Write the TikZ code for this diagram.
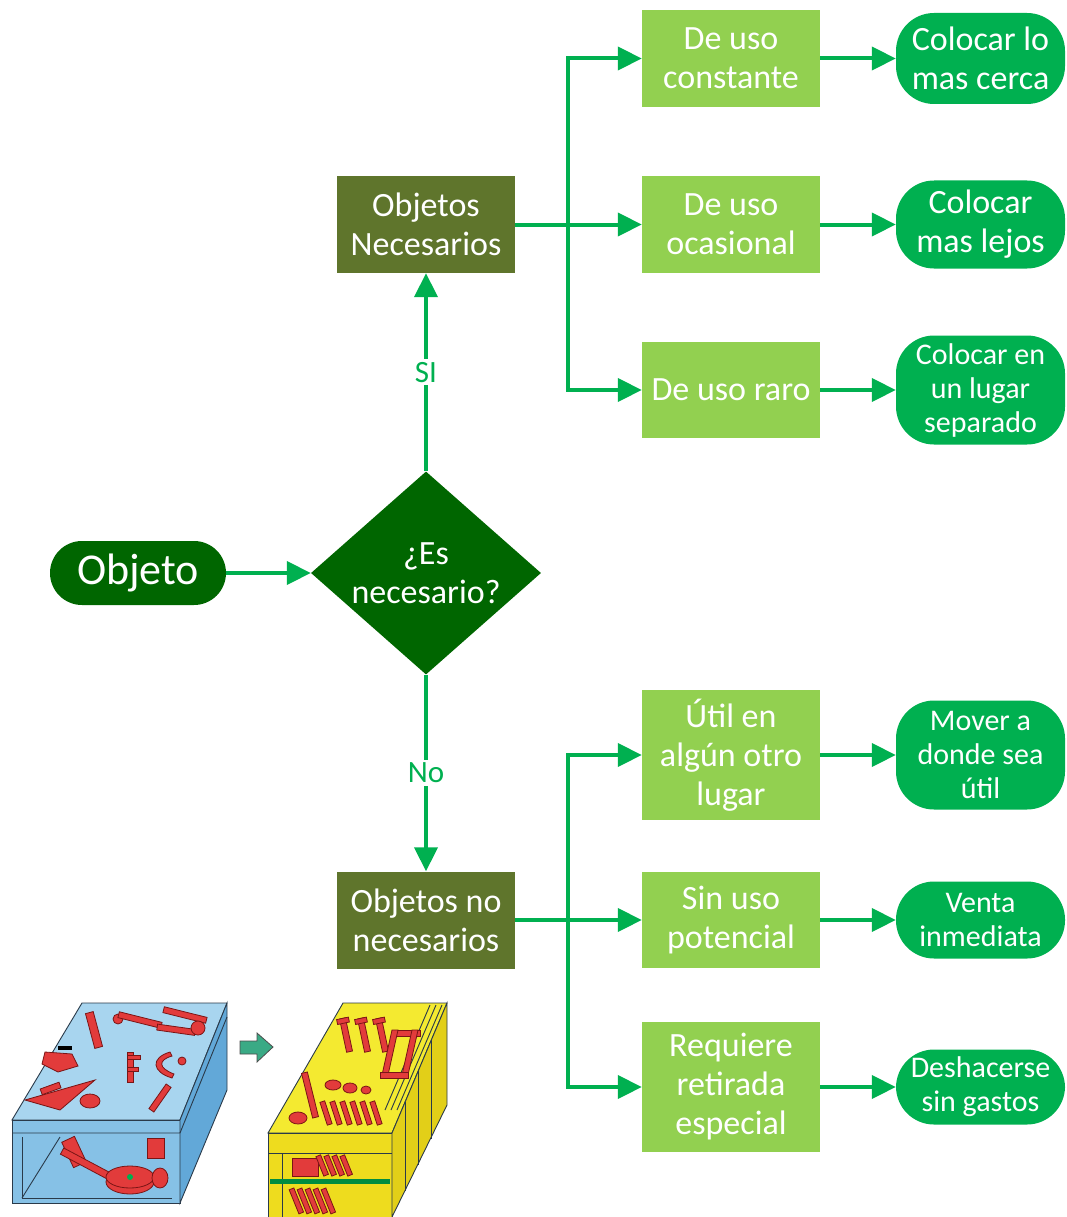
\documentclass[tikz,border=0pt]{standalone}
\usepackage{fontspec}
\setmainfont{Carlito}
\usetikzlibrary{shapes.geometric,arrows.meta}
\definecolor{catgreen}{HTML}{92D050}
\definecolor{resgreen}{HTML}{00B050}
\definecolor{deepgreen}{HTML}{006600}
\definecolor{grpolive}{HTML}{5F752C}
\definecolor{toolred}{HTML}{E23B3B}
\definecolor{toolline}{HTML}{7A1515}
\definecolor{boxblue}{HTML}{A8D5EF}
\definecolor{boxblue2}{HTML}{86C1E6}
\definecolor{boxblue3}{HTML}{62A8D8}
\definecolor{boxyel}{HTML}{F4EA30}
\definecolor{boxyel2}{HTML}{EEDC1E}
\definecolor{boxyel3}{HTML}{E2CF18}
\definecolor{inkline}{HTML}{2A3A4A}
\definecolor{arrowteal}{HTML}{3AAA85}
\begin{document}
\begin{tikzpicture}[x=1pt,y=-1pt,
  cat/.style={fill=catgreen,text=white,minimum width=178pt,inner sep=0pt,align=center,
    font=\fontsize{34}{39}\selectfont},
  grp/.style={fill=grpolive,text=white,minimum width=178pt,minimum height=97pt,inner sep=0pt,align=center,
    font=\fontsize{34}{39}\selectfont},
  res/.style={fill=resgreen,text=white,minimum width=169pt,inner sep=0pt,align=center,rounded corners=38pt},
  bigres/.style={res,font=\fontsize{34}{39}\selectfont},
  smallres/.style={res,font=\fontsize{30}{34}\selectfont},
  decision/.style={diamond,fill=deepgreen,minimum width=230pt,minimum height=203pt,inner sep=0pt},
  flow/.style={draw=resgreen,line width=4pt,-{Triangle[length=24pt,width=23pt]}},
  lbl/.style={fill=white,text=resgreen,inner sep=3pt,font=\fontsize{31}{34}\selectfont},
  tool/.style={fill=toolred,draw=toolline,line width=0.8pt},
  ink/.style={draw=inkline,line width=0.9pt}]
\useasboundingbox (0,0) rectangle (1067,1217);

% start and decision
\node[fill=deepgreen,text=white,minimum width=176pt,minimum height=64pt,rounded corners=32pt,
  inner sep=0pt,font=\fontsize{44}{48}\selectfont] (obj) at (138,573) {Objeto};
\node[decision,label={[text=white,align=center,font=\fontsize{34}{39}\selectfont]center:¿Es\\necesario?}] (q) at (426,573) {};

% groups
\node[grp] (on) at (426,224.5) {Objetos\\Necesarios};
\node[grp] (nn) at (426,920) {Objetos no\\necesarios};

% categories
\node[cat,minimum height=97pt] (t1) at (731,58.5) {De uso\\constante};
\node[cat,minimum height=97pt] (t2) at (731,224.5) {De uso\\ocasional};
\node[cat,minimum height=96pt] (t3) at (731,390) {De uso raro};
\node[cat,minimum height=130pt] (b1) at (731,755) {Útil en\\algún otro\\lugar};
\node[cat,minimum height=96pt] (b2) at (731,920) {Sin uso\\potencial};
\node[cat,minimum height=130pt] (b3) at (731,1087) {Requiere\\retirada\\especial};

% actions
\node[bigres,minimum height=91pt] (r1) at (980.5,58.5) {Colocar lo\\mas cerca};
\node[bigres,minimum height=88pt] (r2) at (980.5,224.5) {Colocar\\mas lejos};
\node[smallres,minimum height=109pt] (r3) at (980.5,390) {Colocar en\\un lugar\\separado};
\node[smallres,minimum height=109pt] (r4) at (980.5,755) {Mover a\\donde sea\\útil};
\node[smallres,minimum height=77pt] (r5) at (980.5,920) {Venta\\inmediata};
\node[smallres,minimum height=75pt] (r6) at (980.5,1087) {Deshacerse\\sin gastos};

% branch points
\coordinate (jt) at (568,224.5);
\coordinate (jb) at (568,920);

% connectors
\draw[flow] (obj.east) -- (q.west);
\draw[flow] (q.north) -- node[lbl] (si) {SI} (on.south);
\draw[flow] (q.south) -- node[lbl] (no) {No} (nn.north);
\draw[flow] (on.east) -- (t2.west);
\draw[flow] (jt) |- (t1.west);
\draw[flow] (jt) |- (t3.west);
\draw[flow] (nn.east) -- (b2.west);
\draw[flow] (jb) |- (b1.west);
\draw[flow] (jb) |- (b3.west);
\draw[flow] (t1.east) -- (r1.west);
\draw[flow] (t2.east) -- (r2.west);
\draw[flow] (t3.east) -- (r3.west);
\draw[flow] (b1.east) -- (r4.west);
\draw[flow] (b2.east) -- (r5.west);
\draw[flow] (b3.east) -- (r6.west);

% ---- messy tool box ----
\fill[boxblue,ink] (82,1003) -- (227,1003) -- (180,1120) -- (12,1120) -- cycle;
\fill[boxblue2,ink] (12,1120) rectangle (180,1203);
\fill[boxblue3,ink] (180,1120) -- (227,1003) -- (227,1090) -- (180,1203) -- cycle;
\draw[ink] (12,1133) -- (180,1133) -- (227,1017);
\draw[ink] (22,1137) -- (22,1198) -- (172,1198);
\draw[ink] (22,1198) -- (60,1137);
% loose tools on top
\draw[tool,rotate around={-75:(94,1030)}] (76,1026) rectangle (112,1034);
\fill[tool] (118,1019) circle (5);
\draw[tool,rotate around={-14:(140,1020)}] (118,1017) rectangle (162,1023);
\draw[tool,rotate around={-14:(185,1015)}] (163,1012) rectangle (207,1018);
\draw[tool,rotate around={-8:(178,1030)}] (157,1027) rectangle (195,1033);
\fill[tool] (198,1028) circle (7);
\draw[tool] (45,1052) -- (72,1054) -- (78,1066) -- (58,1072) -- (42,1064) -- cycle;
\fill[black] (58,1046) rectangle (72,1050);
\draw[tool] (127,1052) rectangle (133,1082);
\draw[tool] (127,1055) rectangle (140,1059);
\draw[tool] (127,1067) rectangle (138,1071);
\draw[tool,line width=0.8pt] (170,1052) .. controls (150,1058) and (152,1072) .. (172,1078) -- (174,1074) .. controls (158,1068) and (158,1060) .. (172,1056) -- cycle;
\fill[tool] (182,1061) circle (4);
\draw[tool] (25,1100) -- (95,1080) -- (60,1110) -- cycle;
\draw[tool] (90,1101) ellipse (10 and 7);
\draw[tool,rotate around={55:(160,1098)}] (145,1095) rectangle (175,1101);
\draw[tool,rotate around={20:(60,1085)}] (40,1082) rectangle (60,1088);
% tools inside the front
\draw[tool,rotate around={25:(74,1152)}] (67,1138) rectangle (81,1166);
\draw[tool,rotate around={-28:(95,1168)}] (58,1165) rectangle (132,1172);
\draw[tool] (130,1182) ellipse (24 and 12);
\draw[tool] (130,1177) ellipse (24 and 11);
\fill[resgreen] (130,1177) circle (3);
\draw[tool] (147,1138) rectangle (164,1158);
\draw[tool] (160,1178) ellipse (8 and 10);

% ---- transition arrow ----
\draw[fill=arrowteal,draw=black!70,line width=0.8pt]
  (240,1041) -- (257,1041) -- (257,1033) -- (273,1047) -- (257,1062) -- (257,1054) -- (240,1054) -- cycle;

% ---- ordered tool box ----
\fill[boxyel,ink] (343,1003) -- (447,1003) -- (392,1133) -- (268,1133) -- cycle;
\fill[boxyel2,ink] (268,1133) rectangle (392,1217);
\fill[boxyel3,ink] (392,1133) -- (447,1003) -- (447,1105) -- (392,1217) -- cycle;
\foreach \k in {1,2,3} {
  \draw[ink] ({392+\k*13},{1133-\k*31}) -- ({392+\k*13},{1217-\k*26});
}
\draw[ink] (268,1153) -- (392,1153);
\draw[ink] (282,1153) -- (282,1217);
\foreach \k in {0,1,2} { \draw[ink] ({430+\k*6},1005) -- ({385+\k*6},1110); }
\fill[resgreen!80!black] (270,1179) rectangle (390,1184);
% tools placed in rows
\foreach \px in {346,364,382} {
  \draw[tool,rotate around={12:(\px,1035)}] (\px-3,1018) rectangle (\px+3,1052);
  \draw[tool,rotate around={12:(\px,1035)}] (\px-6,1018) rectangle (\px+6,1023);
}
\draw[tool] (392,1030) rectangle (420,1036);
\draw[tool] (392,1030) -- (398,1030) -- (388,1075) -- (382,1075) -- cycle;
\draw[tool] (412,1030) -- (418,1030) -- (408,1075) -- (402,1075) -- cycle;
\draw[tool] (380,1072) rectangle (408,1078);
\draw[tool,rotate around={14:(310,1095)}] (307,1072) rectangle (313,1118);
\draw[tool] (298,1118) ellipse (9 and 6);
\draw[tool] (333,1085) ellipse (8 and 5);
\draw[tool] (350,1088) ellipse (7 and 5);
\draw[tool] (366,1090) ellipse (5 and 4);
\foreach \px in {326,336,346,356,366,376} {
  \draw[tool,rotate around={18:(\px,1113)}] (\px-2.5,1101) rectangle (\px+2.5,1125);
}
% stored items in the front drawer
\draw[tool] (292,1158) rectangle (318,1176);
\foreach \px in {322,330,338,346} {
  \draw[tool,rotate around={22:(\px,1165)}] (\px-2.5,1155) rectangle (\px+2.5,1176);
}
\foreach \px in {296,304,312,320,328} {
  \draw[tool,rotate around={22:(\px,1200)}] (\px-2.5,1188) rectangle (\px+2.5,1214);
}
\end{tikzpicture}
\end{document}
